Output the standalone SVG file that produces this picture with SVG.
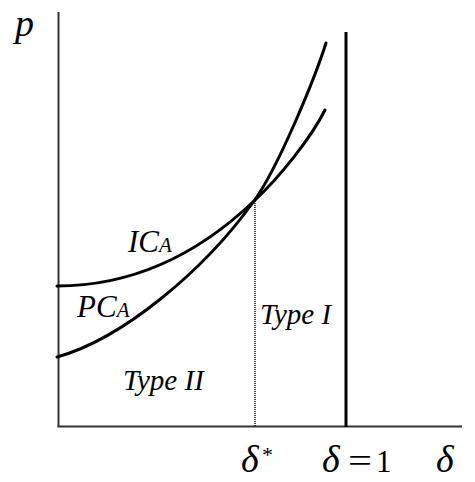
<svg xmlns="http://www.w3.org/2000/svg" width="475" height="482" viewBox="0 0 475 482">
<style>
.lbl{font-family:"Liberation Serif","Times New Roman",serif;font-style:italic;fill:#000}
.rm{font-family:"Liberation Serif","Times New Roman",serif;fill:#000}
.axis{stroke:#333;stroke-width:2;fill:none}
.curve{stroke:#000;stroke-width:3;fill:none;stroke-linecap:round}
</style>
<rect width="475" height="482" fill="#fff"/>
<g id="axes">
<line class="axis" x1="58.5" y1="12" x2="58.5" y2="427"/>
<line class="axis" x1="57.5" y1="426.5" x2="462" y2="426.5"/>
</g>
<g id="connectors">
<path id="IC_A-curve" class="curve" d="M57,286 C122,286 189,263 254,201 C279,178 311,138 325,110"/>
<path id="PC_A-curve" class="curve" d="M57,357 C122,339 204,271 254,201 C278,168 315,78 326,43"/>
<line id="delta-one-line" x1="346" y1="32" x2="346" y2="427" stroke="#000" stroke-width="3"/>
<line id="delta-star-line" x1="255" y1="201" x2="255" y2="426" stroke="#000" stroke-width="1.5" stroke-dasharray="1 1"/>
</g>
<g id="label-p"><text class="lbl" x="15" y="36" font-size="38">p</text></g>
<g id="label-ICA"><text class="lbl" x="128" y="252" font-size="31">IC<tspan font-size="21">A</tspan></text></g>
<g id="label-PCA"><text class="lbl" x="77" y="317" font-size="31">PC<tspan font-size="21">A</tspan></text></g>
<g id="label-type1"><text class="lbl" x="260" y="324" font-size="29">Type I</text></g>
<g id="label-type2"><text class="lbl" x="123" y="390" font-size="29">Type II</text></g>
<g id="label-delta-star"><text class="lbl" x="241" y="472" font-size="38">δ</text><text class="rm" x="262" y="462" font-size="22">*</text></g>
<g id="label-delta-one"><text class="lbl" x="322" y="472" font-size="38">δ</text><text class="rm" x="348" y="472" font-size="34" textLength="24" lengthAdjust="spacingAndGlyphs">=</text><text class="rm" x="376" y="472" font-size="31">1</text></g>
<g id="label-delta"><text class="lbl" x="436" y="472" font-size="38">δ</text></g>
</svg>
